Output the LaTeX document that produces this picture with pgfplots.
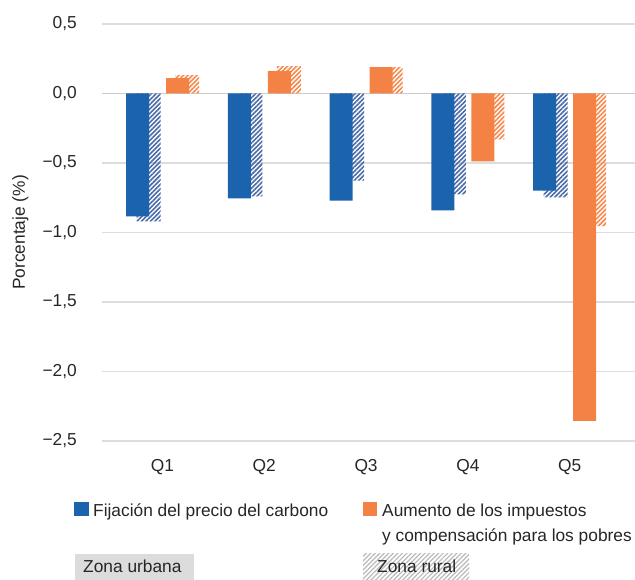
\documentclass[border=0pt]{standalone}
\usepackage{pgfplots}
\pgfplotsset{compat=1.18}
\usepackage{fontspec}
\setmainfont{Liberation Sans}
\usetikzlibrary{patterns.meta}
\definecolor{cblue}{HTML}{1C63AE}
\definecolor{cbluehatch}{HTML}{4A6BA8}
\definecolor{corange}{HTML}{F48244}
\definecolor{corangehatch}{HTML}{F58A4E}
\definecolor{cgrid}{HTML}{DDDDDD}
\definecolor{czero}{HTML}{CCCCCC}
\definecolor{cbox}{HTML}{DCDCDC}
\definecolor{ctext}{HTML}{262626}
\begin{document}
\fontsize{17.4}{21}\selectfont
\begin{tikzpicture}[x=1bp,y=1bp]
\useasboundingbox (0,0) rectangle (635,580);
\begin{axis}[
  at={(102bp,139bp)}, anchor=south west,
  scale only axis, width=533bp, height=417bp,
  xmin=-0.595, xmax=4.643, ymin=-2.5, ymax=0.5,
  ybar=0pt,
  axis line style={draw=none},
  major tick length=0pt,
  xtick={0,1,2,3,4}, xticklabels={Q1,Q2,Q3,Q4,Q5},
  ytick={-2.5,-2,-1.5,-1,-0.5,0,0.5},
  yticklabels={{−2,5},{−2,0},{−1,5},{−1,0},{−0,5},{0,0},{0,5}},
  ymajorgrids, grid style={cgrid, line width=1.2bp},
  extra y ticks={0}, extra y tick labels={},
  extra y tick style={grid style={czero, line width=1.5bp}},
  ticklabel style={font=\fontsize{17.4}{21}\selectfont, text=ctext},
  yticklabel style={anchor=east, inner sep=0pt, xshift=-25bp},
  xticklabel style={anchor=base, inner sep=0pt, yshift=-31bp},
  ylabel={Porcentaje (\%)},
  ylabel style={at={(axis description cs:-0.153,0.5)}, anchor=center, rotate=0, font=\fontsize{17.4}{21}\selectfont, text=ctext},
  clip=false,
]
% rural carbon price (hatched blue)
\addplot[draw=none, pattern={Lines[angle=45,distance=3.2bp,line width=1.6bp]}, pattern color=cbluehatch, bar width=24bp, bar shift=-14bp]
  coordinates {(0,-0.920) (1,-0.741) (2,-0.626) (3,-0.726) (4,-0.748)};
% urban carbon price (solid blue)
\addplot[draw=none, fill=cblue, bar width=23bp, bar shift=-25bp]
  coordinates {(0,-0.884) (1,-0.755) (2,-0.770) (3,-0.841) (4,-0.698)};
% rural tax + compensation (hatched orange)
\addplot[draw=none, pattern={Lines[angle=45,distance=3.2bp,line width=1.6bp]}, pattern color=corangehatch, bar width=24bp, bar shift=24.5bp]
  coordinates {(0,0.133) (1,0.197) (2,0.190) (3,-0.331) (4,-0.955)};
% urban tax + compensation (solid orange)
\addplot[draw=none, fill=corange, bar width=23bp, bar shift=15bp]
  coordinates {(0,0.111) (1,0.162) (2,0.190) (3,-0.489) (4,-2.355)};
\end{axis}
% legend
\fill[cblue] (74,64) rectangle (89,78);
\node[anchor=base west, inner sep=0pt, text=ctext] at (93,63) {Fijación del precio del carbono};
\fill[corange] (363,64) rectangle (377,78);
\node[anchor=base west, inner sep=0pt, text=ctext] at (382,63) {Aumento de los impuestos};
\node[anchor=base west, inner sep=0pt, text=ctext] at (382,38) {y compensación para los pobres};
\fill[cbox] (75,0) rectangle (194,26);
\node[anchor=base west, inner sep=0pt, text=ctext] at (83,7) {Zona urbana};
\fill[pattern={Lines[angle=45,distance=3.2bp,line width=1.2bp]}, pattern color=gray!55] (363,0) rectangle (469,26);
\node[anchor=base west, inner sep=0pt, text=ctext] at (377,7) {Zona rural};
\end{tikzpicture}
\end{document}
